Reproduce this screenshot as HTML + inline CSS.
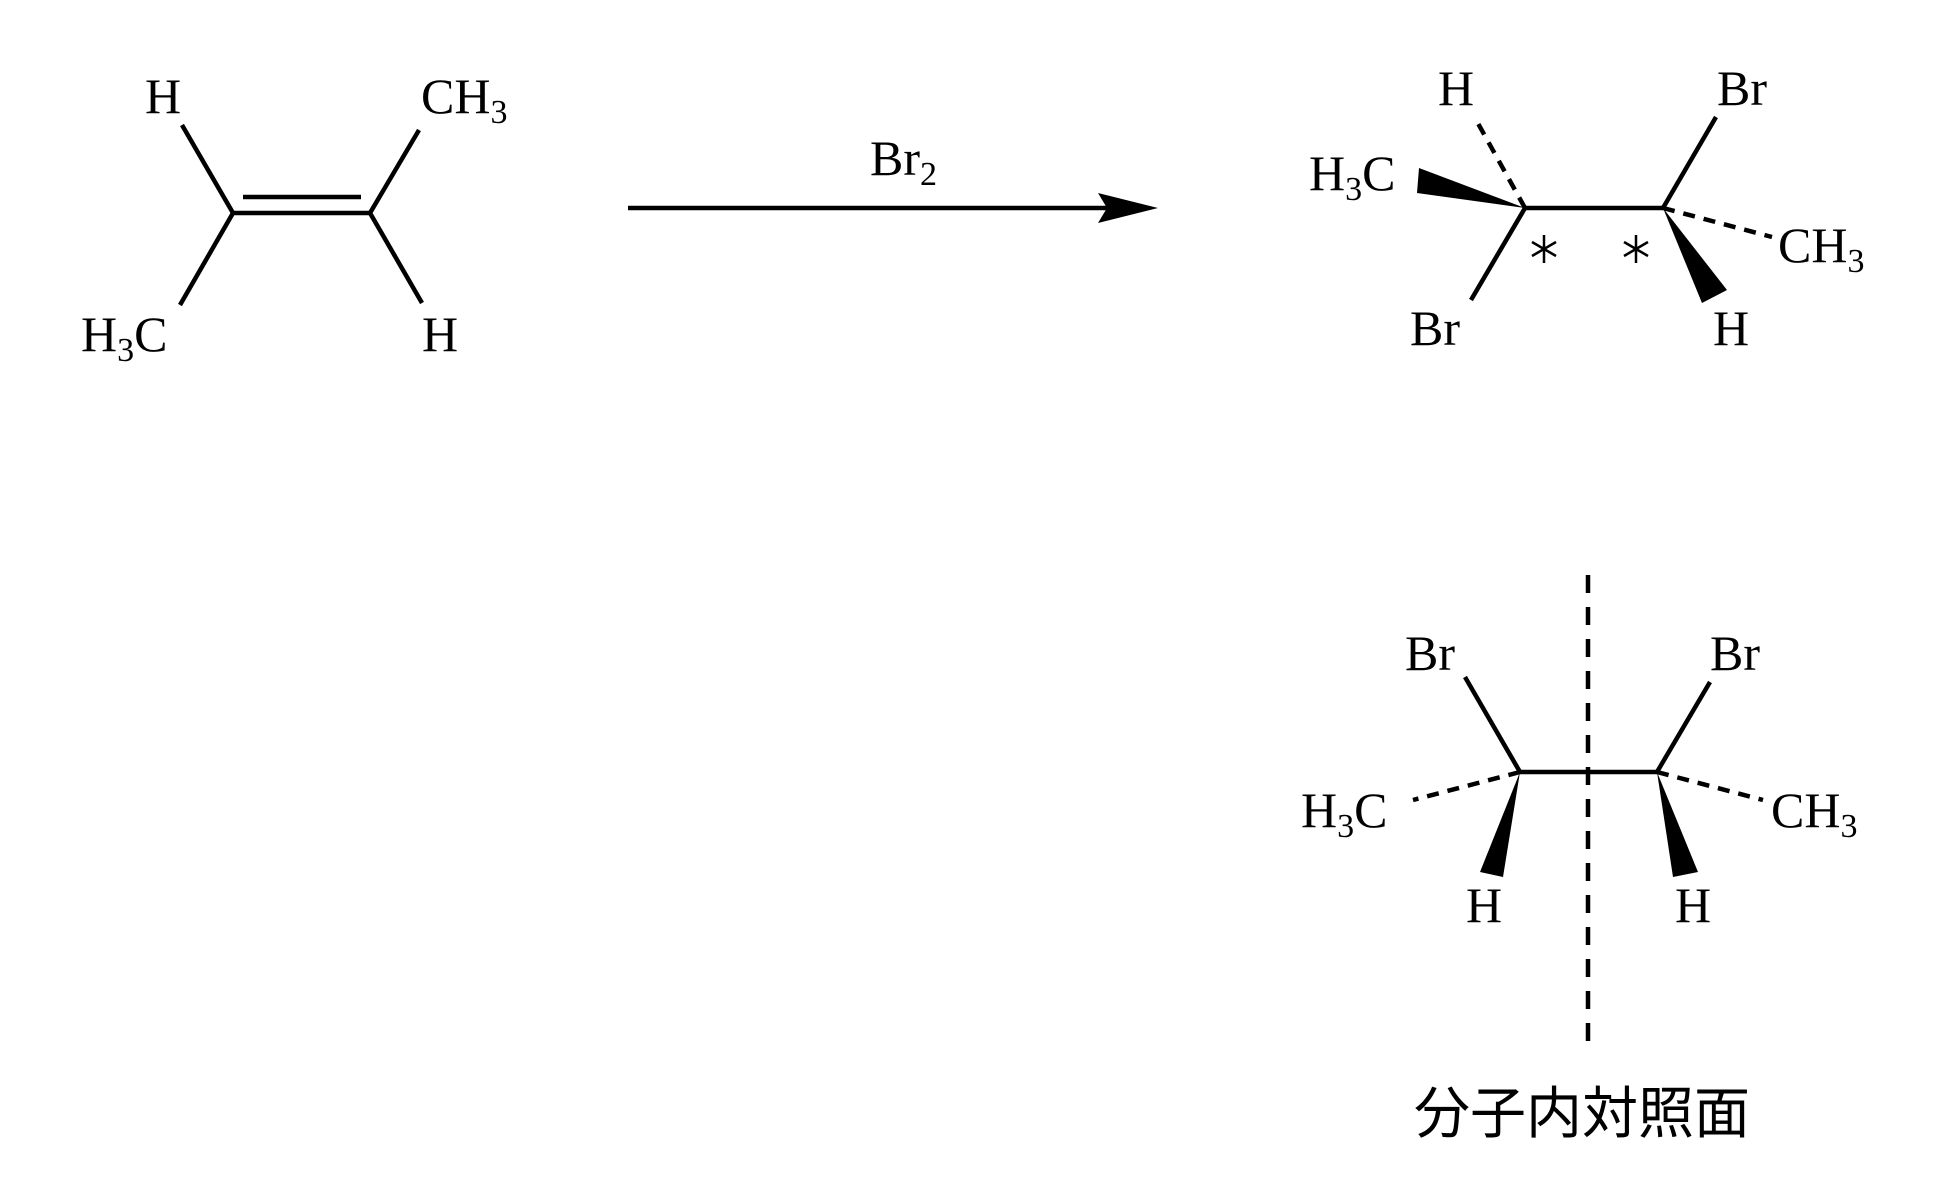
<!DOCTYPE html>
<html><head><meta charset="utf-8"><style>
html,body{margin:0;padding:0;background:#fff;}
svg text{font-family:"Liberation Serif",serif;font-size:50px;fill:#000;}
</style></head><body>
<svg width="1958" height="1186" viewBox="0 0 1958 1186" xmlns="http://www.w3.org/2000/svg">
<g stroke="#000" stroke-width="4.5" fill="none" stroke-linecap="butt">
<line x1="233" y1="213" x2="370" y2="213"/>
<line x1="243" y1="197" x2="361" y2="197"/>
<line x1="233" y1="213" x2="182" y2="125"/>
<line x1="233" y1="213" x2="180" y2="305"/>
<line x1="370" y1="213" x2="419" y2="130"/>
<line x1="370" y1="213" x2="422" y2="303"/>
<line x1="628" y1="208" x2="1110" y2="208"/>
<line x1="1525" y1="208" x2="1663" y2="208"/>
<line x1="1525" y1="208" x2="1471" y2="300"/>
<line x1="1663" y1="208" x2="1716" y2="117"/>
<line x1="1525" y1="208" x2="1475" y2="118" stroke-dasharray="12,9"/>
<line x1="1663" y1="208" x2="1772" y2="237" stroke-dasharray="12,9"/>
<line x1="1520" y1="772" x2="1657" y2="772"/>
<line x1="1520" y1="772" x2="1465" y2="677"/>
<line x1="1657" y1="772" x2="1710" y2="682"/>
<line x1="1520" y1="772" x2="1413" y2="800" stroke-dasharray="12,9"/>
<line x1="1657" y1="772" x2="1763" y2="800" stroke-dasharray="12,9"/>
<line x1="1588" y1="575" x2="1588" y2="1044" stroke-dasharray="18,14"/>
</g>
<g stroke="#000" stroke-width="2.5">
<line x1="1544" y1="235" x2="1544" y2="263"/>
<line x1="1532" y1="242" x2="1556" y2="256"/>
<line x1="1532" y1="256" x2="1556" y2="242"/>
<line x1="1636" y1="235" x2="1636" y2="263"/>
<line x1="1624" y1="242" x2="1648" y2="256"/>
<line x1="1624" y1="256" x2="1648" y2="242"/>
</g>
<g fill="#000">
<polygon points="1158,208 1098,193 1107,208 1098,223"/>
<polygon points="1525,208 1419,168 1417,193"/>
<polygon points="1663,208 1702,303 1727,290"/>
<polygon points="1520,772 1480,872 1503,877"/>
<polygon points="1657,772 1673,877 1698,872"/>
</g>
<text x="163" y="113" text-anchor="middle">H</text>
<text x="421" y="113">CH<tspan font-size="34" dy="10">3</tspan></text>
<text x="81" y="351">H<tspan font-size="34" dy="10">3</tspan><tspan dy="-10">C</tspan></text>
<text x="440" y="351" text-anchor="middle">H</text>
<text x="870" y="175">Br<tspan font-size="34" dy="10">2</tspan></text>
<text x="1456" y="105" text-anchor="middle">H</text>
<text x="1309" y="190">H<tspan font-size="34" dy="10">3</tspan><tspan dy="-10">C</tspan></text>
<text x="1435" y="345" text-anchor="middle">Br</text>
<text x="1742" y="105" text-anchor="middle">Br</text>
<text x="1778" y="262">CH<tspan font-size="34" dy="10">3</tspan></text>
<text x="1731" y="345" text-anchor="middle">H</text>
<text x="1430" y="670" text-anchor="middle">Br</text>
<text x="1735" y="670" text-anchor="middle">Br</text>
<text x="1301" y="827">H<tspan font-size="34" dy="10">3</tspan><tspan dy="-10">C</tspan></text>
<text x="1771" y="827">CH<tspan font-size="34" dy="10">3</tspan></text>
<text x="1484" y="922" text-anchor="middle">H</text>
<text x="1693" y="922" text-anchor="middle">H</text>
<text x="1582" y="1133" text-anchor="middle" style="font-family:'Liberation Sans','Noto Sans CJK JP',sans-serif;font-size:56px;">分子内対照面</text>
</svg>
</body></html>
